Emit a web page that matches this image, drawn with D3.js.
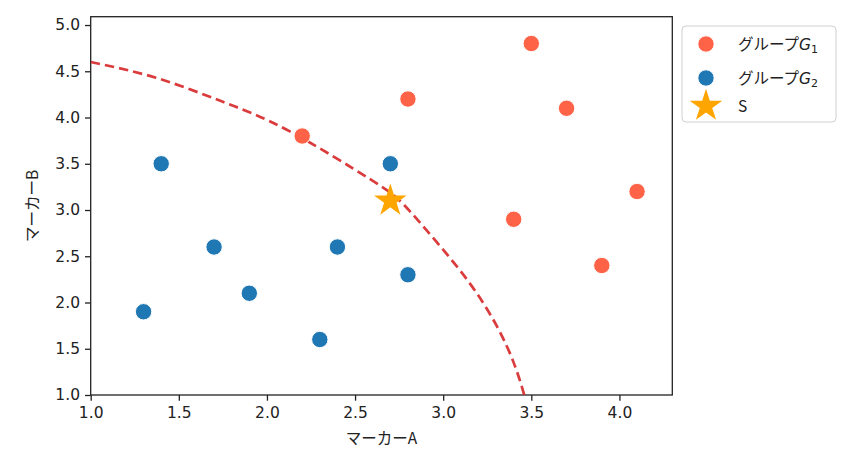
<!DOCTYPE html>
<html>
<head>
<meta charset="utf-8">
<script src="https://cdn.jsdelivr.net/npm/d3@7"></script>
<style>
  body { margin: 0; background: #fff; }
  svg { display: block; }
  .tick text { font-family: "DejaVu Sans", sans-serif; font-size: 15.5px; fill: #222; }
  .tick line { stroke: #222; }
  .axis-label, .legend-label { font-family: "Noto Sans CJK JP", "DejaVu Sans", sans-serif; font-size: 15.5px; fill: #222; }
</style>
</head>
<body>
<svg id="chart" width="850" height="455"></svg>
<script>
// group G1 (red) points
var g1X = [2.2, 2.8, 3.5, 3.7, 3.4, 4.1, 3.9];
var g1Y = [3.8, 4.2, 4.8, 4.1, 2.9, 3.2, 2.4];

// group G2 (blue) points
var g2X = [1.4, 2.7, 1.7, 2.4, 1.9, 2.8, 1.3, 2.3];
var g2Y = [3.5, 3.5, 2.6, 2.6, 2.1, 2.3, 1.9, 1.6];

// the star S
var sX = [2.7];
var sY = [3.1];

// dashed boundary
var curveX = [1.00, 1.37, 1.75, 2.13, 2.58, 2.77, 2.96, 3.15, 3.30, 3.40, 3.46];
var curveY = [4.60, 4.43, 4.17, 3.85, 3.34, 3.07, 2.66, 2.21, 1.76, 1.35, 1.00];

var xTicks = [1.0, 1.5, 2.0, 2.5, 3.0, 3.5, 4.0];
var yTicks = [1.0, 1.5, 2.0, 2.5, 3.0, 3.5, 4.0, 4.5, 5.0];

var legendNames = ["グループ", "グループ", "S"];

var svg = d3.select("#chart");

// plot box
var box = { left: 90.7, right: 672.3, top: 16.7, bottom: 395 };

var x = d3.scaleLinear().domain([1.0, 4.3]).range([box.left, box.right]);
var y = d3.scaleLinear().domain([1.0, 5.09]).range([box.bottom, box.top]);

// zip helper
function pts(xs, ys) {
  return xs.map(function(d, i) { return { x: d, y: ys[i] }; });
}

// Axes
svg.append("g")
  .attr("transform", "translate(0," + box.bottom + ")")
  .call(d3.axisBottom(x).tickValues(xTicks).tickFormat(d3.format(".1f"))
    .tickSize(5.7).tickPadding(6).tickSizeOuter(0));

svg.append("g")
  .attr("transform", "translate(" + box.left + ",0)")
  .call(d3.axisLeft(y).tickValues(yTicks).tickFormat(d3.format(".1f"))
    .tickSize(5.7).tickPadding(5).tickSizeOuter(0));

svg.selectAll(".domain").remove();
svg.selectAll(".tick line").attr("stroke-width", 1.3);

// frame
svg.append("rect")
  .attr("x", box.left).attr("y", box.top)
  .attr("width", box.right - box.left).attr("height", box.bottom - box.top)
  .attr("fill", "none").attr("stroke", "#222").attr("stroke-width", 1.3);

// Axis labels
svg.append("text")
  .attr("class", "axis-label")
  .attr("x", (box.left + box.right) / 2).attr("y", 444)
  .attr("text-anchor", "middle")
  .text("マーカーA");

svg.append("text")
  .attr("class", "axis-label")
  .attr("transform", "translate(38," + (box.top + box.bottom) / 2 + ") rotate(-90)")
  .attr("text-anchor", "middle")
  .text("マーカーB");

// clip so the curve stays in the box
svg.append("clipPath").attr("id", "plot-clip")
  .append("rect")
  .attr("x", box.left).attr("y", box.top)
  .attr("width", box.right - box.left).attr("height", box.bottom - box.top);

// Draw the dashed boundary
var line = d3.line()
  .x(function(d) { return x(d.x); })
  .y(function(d) { return y(d.y); })
  .curve(d3.curveNatural);

svg.append("path")
  .datum(pts(curveX, curveY))
  .attr("clip-path", "url(#plot-clip)")
  .attr("d", line)
  .attr("fill", "none")
  .attr("stroke", "#d62728")
  .attr("stroke-opacity", 0.9)
  .attr("stroke-width", 2.7)
  .attr("stroke-dasharray", "9.5,5");

// Draw the two groups
var groups = [
  { data: pts(g1X, g1Y), color: "#ff6347" },
  { data: pts(g2X, g2Y), color: "#1f77b4" }
];

groups.forEach(function(g) {
  svg.append("g")
    .selectAll("circle")
    .data(g.data)
    .enter()
    .append("circle")
    .attr("cx", function(d) { return x(d.x); })
    .attr("cy", function(d) { return y(d.y); })
    .attr("r", 8.2)
    .attr("fill", g.color)
    .attr("stroke", "#fff")
    .attr("stroke-width", 1);
});

// Draw the star
var star = d3.symbol().type(d3.symbolStar).size(330);

svg.append("g")
  .selectAll("path")
  .data(pts(sX, sY))
  .enter()
  .append("path")
  .attr("transform", function(d) { return "translate(" + x(d.x) + "," + y(d.y) + ")"; })
  .attr("d", star)
  .attr("fill", "#ffa500");

// Legend
var legend = svg.append("g").attr("transform", "translate(682,26)");

legend.append("rect")
  .attr("width", 154).attr("height", 96)
  .attr("rx", 4)
  .attr("fill", "#fff").attr("fill-opacity", 0.8)
  .attr("stroke", "#d0d0d0");

var rows = [
  { color: "#ff6347", kind: "circle", sub: "1", cy: 18 },
  { color: "#1f77b4", kind: "circle", sub: "2", cy: 52 },
  { color: "#ffa500", kind: "star", sub: null, cy: 80 }
];

rows.forEach(function(r, i) {
  if (r.kind == "circle") {
    legend.append("circle")
      .attr("cx", 24).attr("cy", r.cy).attr("r", 8.2)
      .attr("fill", r.color).attr("stroke", "#fff").attr("stroke-width", 1);
  } else {
    legend.append("path")
      .attr("transform", "translate(24," + r.cy + ")")
      .attr("d", star)
      .attr("fill", r.color);
  }

  var t = legend.append("text")
    .attr("class", "legend-label")
    .attr("x", 56).attr("y", r.cy + 5.5)
    .text(legendNames[i]);

  // math-style G with subscript
  if (r.sub) {
    t.append("tspan")
      .attr("font-family", "DejaVu Sans")
      .attr("font-style", "italic")
      .text("G");
    t.append("tspan")
      .attr("font-family", "DejaVu Sans")
      .attr("font-size", "11px")
      .attr("dy", 3.5)
      .text(r.sub);
  }
});
</script>
</body>
</html>
